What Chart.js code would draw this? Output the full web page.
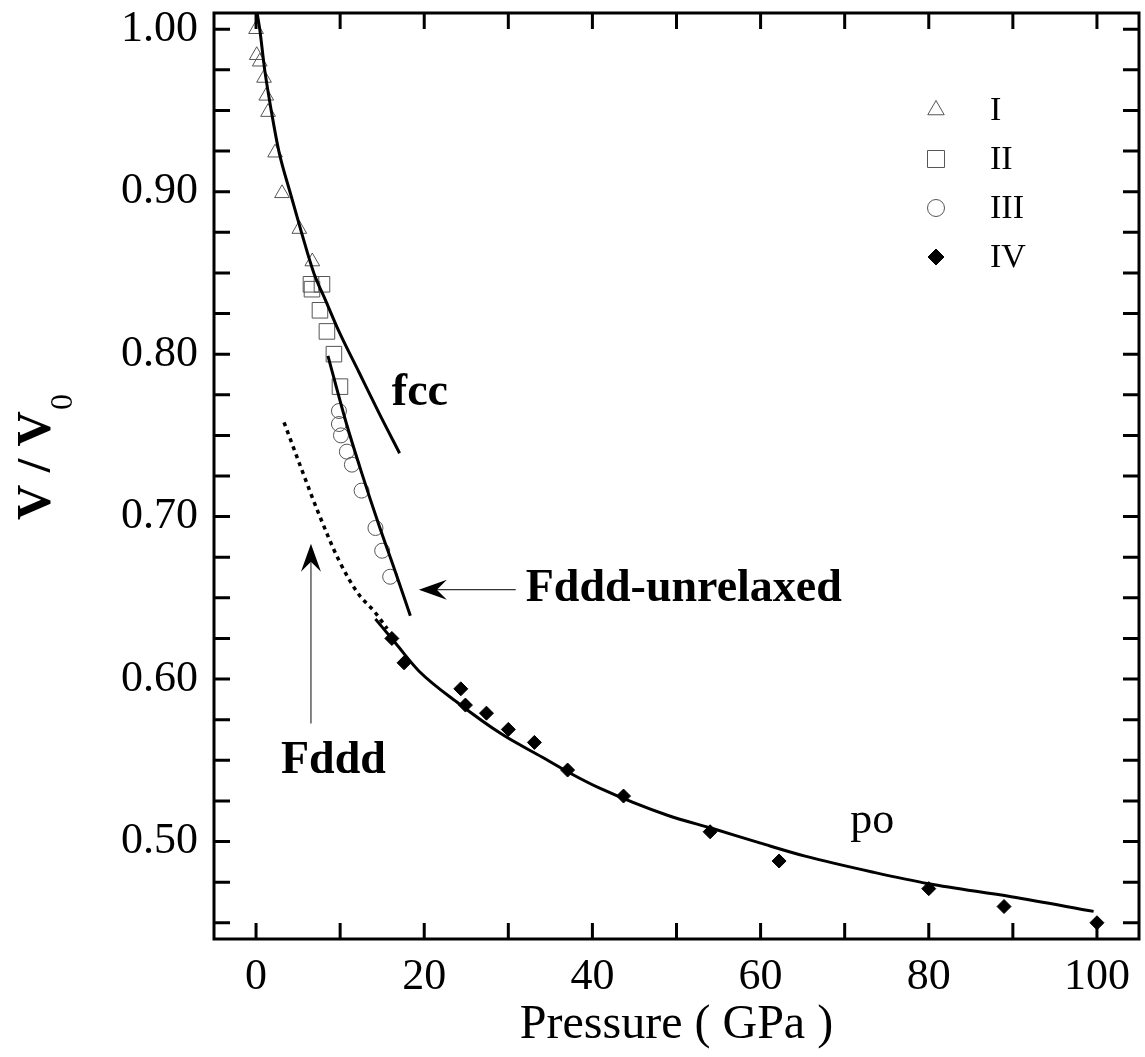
<!DOCTYPE html>
<html><head><meta charset="utf-8">
<script src="https://cdn.jsdelivr.net/npm/chart.js@4/dist/chart.umd.min.js"></script>
<style>html,body{margin:0;background:#fff}#c{display:block}</style>
</head><body>
<canvas id="c" width="1145" height="1057"></canvas>
<script>
// values: pressure (GPa) vs V/V0
const p1 = [0, 0.08, 0.44, 0.95, 1.22, 1.43, 2.26, 3.09, 5.15, 6.69];
const v1 = [1.000, 0.984, 0.980, 0.970, 0.959, 0.949, 0.924, 0.899, 0.877, 0.857];
const p2 = [6.53, 6.65, 7.84, 7.6, 8.43, 9.26, 9.98];
const v2 = [0.843, 0.840, 0.843, 0.827, 0.814, 0.800, 0.780];
const p3 = [9.86, 9.86, 10.1, 10.8, 11.4, 12.55, 14.2, 15.0, 15.95];
const v3 = [0.765, 0.757, 0.750, 0.740, 0.732, 0.716, 0.693, 0.679, 0.663];
const p4 = [16.15, 17.6, 24.35, 24.9, 27.4, 30.0, 33.1, 37.05, 43.7, 54.0, 62.2, 80.0, 88.95, 100];
const v4 = [0.625, 0.610, 0.594, 0.584, 0.579, 0.569, 0.561, 0.544, 0.528, 0.506, 0.488, 0.471, 0.460, 0.450];

// calculated curves
const fccP = [0.15, 0.44, 1.03, 1.82, 2.73, 4.04, 5.42, 6.89, 8.28, 9.86, 12.23, 14.6, 17.07];
const fccV = [1.0094, 1.0, 0.975, 0.9496, 0.9245, 0.8998, 0.8747, 0.8497, 0.833, 0.814, 0.789, 0.764, 0.739];
const unrP = [8.55, 10.65, 12.62, 14.6, 16.5, 18.35];
const unrV = [0.799, 0.759, 0.726, 0.695, 0.667, 0.639];
const fdddP = [3.33, 5.5, 7.48, 9.86, 12.23, 14.0, 15.6];
const fdddV = [0.758, 0.728, 0.7015, 0.673, 0.652, 0.642, 0.631];
const poP = [14.2, 16.6, 19.36, 24.1, 29.25, 34.0, 37.2, 40.8, 49.0, 54.3, 60.0, 65.3, 73.5, 80.0, 89.8, 99.6];
const poV = [0.637, 0.622, 0.605, 0.585, 0.566, 0.552, 0.5425, 0.533, 0.516, 0.508, 0.499, 0.491, 0.481, 0.474, 0.466, 0.457];

// axes
const xLabels = [0, 20, 40, 60, 80, 100];
const yLabels = [0.5, 0.6, 0.7, 0.8, 0.9, 1.0];
const xMinor = [0, 10, 20, 30, 40, 50, 60, 70, 80, 90, 100];
const yMinor = [0.45, 0.475, 0.5, 0.525, 0.55, 0.575, 0.6, 0.625, 0.65, 0.675, 0.7, 0.725, 0.75, 0.775, 0.8, 0.825, 0.85, 0.875, 0.9, 0.925, 0.95, 0.975, 1.0];
const seriesNames = ['I', 'II', 'III', 'IV'];

const SERIF = '"Liberation Serif", "Times New Roman", serif';
const pts = (xs, ys) => xs.map((x, i) => ({ x, y: ys[i] }));

function curve(data, dash, w) {
  return { data, showLine: true, pointRadius: 0, pointHoverRadius: 0, borderColor: '#000', borderWidth: w || 3,
           borderDash: dash || [], cubicInterpolationMode: 'monotone', fill: false };
}
function marks(label, data, style, r, solid) {
  return { label, data, pointStyle: style, pointRadius: r, pointHoverRadius: r, borderWidth: 1,
           borderColor: solid ? '#000' : '#555', backgroundColor: solid ? '#000' : 'rgba(0,0,0,0)', showLine: false };
}

// text labels and arrows, placed in data units
const notes = [
  { t: 'fcc', x: 16.15, y: 0.769, bold: true, size: 46 },
  { t: 'Fddd-unrelaxed', x: 32.07, y: 0.648, bold: true, size: 46 },
  { t: 'Fddd', x: 2.97, y: 0.5424, bold: true, size: 46 },
  { t: 'po', x: 70.67, y: 0.505, bold: false, size: 44 }
];
const arrows = [
  { from: [30.88, 0.655], to: [19.36, 0.655] },
  { from: [6.53, 0.5726], to: [6.53, 0.6833] }
];

const decor = {
  id: 'decor',
  afterDatasetsDraw(chart) {
    const { ctx, chartArea: a, scales: { x, y } } = chart;
    ctx.save();
    // frame + inward ticks
    ctx.strokeStyle = '#000';
    ctx.lineWidth = 3;
    ctx.strokeRect(a.left, a.top, a.right - a.left, a.bottom - a.top);
    const tl = 16;
    ctx.beginPath();
    xMinor.forEach(v => {
      const px = x.getPixelForValue(v);
      ctx.moveTo(px, a.bottom); ctx.lineTo(px, a.bottom - tl);
      ctx.moveTo(px, a.top); ctx.lineTo(px, a.top + tl);
    });
    yMinor.forEach(v => {
      const py = y.getPixelForValue(v);
      ctx.moveTo(a.left, py); ctx.lineTo(a.left + tl, py);
      ctx.moveTo(a.right, py); ctx.lineTo(a.right - tl, py);
    });
    ctx.stroke();

    // arrows
    arrows.forEach(ar => {
      const x0 = x.getPixelForValue(ar.from[0]), y0 = y.getPixelForValue(ar.from[1]);
      const x1 = x.getPixelForValue(ar.to[0]), y1 = y.getPixelForValue(ar.to[1]);
      const ang = Math.atan2(y1 - y0, x1 - x0);
      ctx.strokeStyle = '#333'; ctx.lineWidth = 1.2;
      ctx.beginPath(); ctx.moveTo(x0, y0); ctx.lineTo(x1 - 10 * Math.cos(ang), y1 - 10 * Math.sin(ang)); ctx.stroke();
      const L = 28, W = 10, N = 18;
      const c = Math.cos(ang), s = Math.sin(ang);
      ctx.fillStyle = '#000';
      ctx.beginPath();
      ctx.moveTo(x1, y1);
      ctx.lineTo(x1 - L * c - W * s, y1 - L * s + W * c);
      ctx.lineTo(x1 - N * c, y1 - N * s);
      ctx.lineTo(x1 - L * c + W * s, y1 - L * s - W * c);
      ctx.closePath(); ctx.fill();
    });

    // annotations
    ctx.fillStyle = '#000';
    ctx.textBaseline = 'alphabetic';
    ctx.textAlign = 'left';
    notes.forEach(n => {
      ctx.font = (n.bold ? 'bold ' : '') + n.size + 'px ' + SERIF;
      ctx.fillText(n.t, x.getPixelForValue(n.x), y.getPixelForValue(n.y));
    });

    // legend (top right, inside the frame)
    const lx = a.right - 203, ly = a.top + 97, step = 49;
    chart.data.datasets.forEach(ds => {
      if (!ds.label) return;
      const i = seriesNames.indexOf(ds.label);
      const cy = ly + i * step;
      ctx.strokeStyle = ds.borderColor; ctx.fillStyle = ds.backgroundColor; ctx.lineWidth = 1;
      Chart.helpers.drawPoint(ctx, { pointStyle: ds.pointStyle, radius: ds.pointRadius + 1, borderWidth: 1, rotation: 0 }, lx, cy);
      ctx.fillStyle = '#000';
      ctx.font = '34px ' + SERIF;
      ctx.textBaseline = 'middle';
      ctx.fillText(ds.label, lx + 54, cy + 1);
    });

    // axis titles
    ctx.textBaseline = 'alphabetic';
    ctx.textAlign = 'center';
    ctx.font = '48px ' + SERIF;
    ctx.fillText('Pressure ( GPa )', (a.left + a.right) / 2, 1038);

    ctx.translate(50, 520);
    ctx.rotate(-Math.PI / 2);
    ctx.textAlign = 'left';
    ctx.font = 'bold 49px ' + SERIF;
    ctx.fillText('V / V', 0, 0);
    const w = ctx.measureText('V / V').width;
    ctx.font = '32px ' + SERIF;
    ctx.fillText('0', w + 1, 22);
    ctx.restore();
  }
};

new Chart(document.getElementById('c'), {
  type: 'scatter',
  data: {
    datasets: [
      curve(pts(fccP, fccV)),
      curve(pts(unrP, unrV)),
      curve(pts(fdddP, fdddV), [4, 4.5], 3.5),
      curve(pts(poP, poV)),
      marks('I', pts(p1, v1), 'triangle', 8.5, false),
      marks('II', pts(p2, v2), 'rect', 11, false),
      marks('III', pts(p3, v3), 'circle', 7.5, false),
      marks('IV', pts(p4, v4), 'rectRot', 7, true)
    ]
  },
  options: {
    responsive: false,
    animation: false,
    events: [],
    layout: { autoPadding: false, padding: { top: 13, right: 6, left: 0, bottom: 0 } },
    plugins: { legend: { display: false }, tooltip: { enabled: false } },
    scales: {
      x: {
        type: 'linear', min: -5, max: 105,
        grid: { display: false, drawTicks: false }, border: { display: false },
        afterBuildTicks: s => { s.ticks = xLabels.map(v => ({ value: v })); },
        afterFit: s => { s.height = 118; s.paddingLeft = 0; s.paddingRight = 0; },
        ticks: { font: { family: SERIF, size: 44 }, color: '#000', padding: 12, maxRotation: 0, autoSkip: false,
                 callback: v => String(v) }
      },
      y: {
        type: 'linear', min: 0.44, max: 1.01,
        grid: { display: false, drawTicks: false }, border: { display: false },
        afterBuildTicks: s => { s.ticks = yLabels.map(v => ({ value: v })); },
        afterFit: s => { s.width = 214; s.paddingTop = 0; s.paddingBottom = 0; },
        ticks: { font: { family: SERIF, size: 44 }, color: '#000', padding: 16, autoSkip: false,
                 callback: v => v.toFixed(2) }
      }
    }
  },
  plugins: [decor]
});
</script>
</body></html>
